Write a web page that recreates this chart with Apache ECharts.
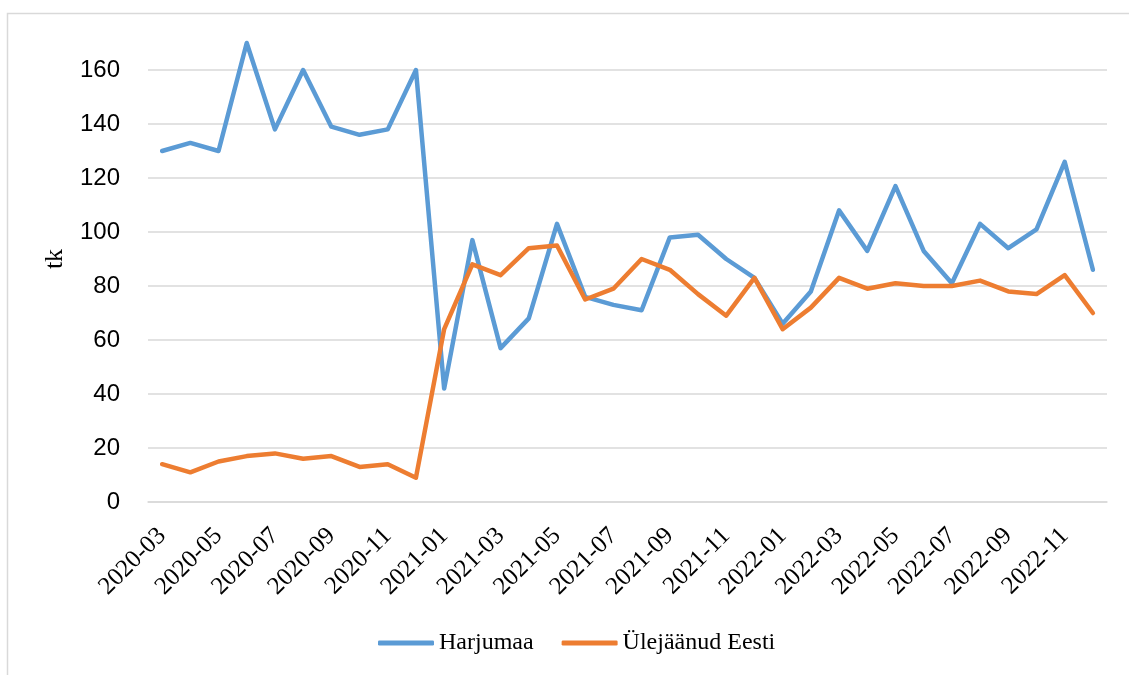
<!DOCTYPE html>
<html>
<head>
<meta charset="utf-8">
<script src="https://cdn.jsdelivr.net/npm/echarts@6/dist/echarts.min.js"></script>
<style>
  html, body { margin: 0; padding: 0; background: #fff; }
  #main { width: 1129px; height: 675px; }
</style>
</head>
<body>
<div id="main"></div>
<script>
// kuud 2020-03 ... 2022-12
var months = ['2020-03','2020-04','2020-05','2020-06','2020-07','2020-08','2020-09','2020-10','2020-11','2020-12',
  '2021-01','2021-02','2021-03','2021-04','2021-05','2021-06','2021-07','2021-08','2021-09','2021-10','2021-11','2021-12',
  '2022-01','2022-02','2022-03','2022-04','2022-05','2022-06','2022-07','2022-08','2022-09','2022-10','2022-11','2022-12'];

var harjumaa = [130, 133, 130, 170, 138, 160, 139, 136, 138, 160,
  42, 97, 57, 68, 103, 76, 73, 71, 98, 99, 90, 83,
  66, 78, 108, 93, 117, 93, 81, 103, 94, 101, 126, 86];

var ylejaanud = [14, 11, 15, 17, 18, 16, 17, 13, 14, 9,
  64, 88, 84, 94, 95, 75, 79, 90, 86, 77, 69, 83,
  64, 72, 83, 79, 81, 80, 80, 82, 78, 77, 84, 70];

var seriesNames = ['Harjumaa', 'Ülejäänud Eesti'];
var colors = ['#5B9BD5', '#ED7D31'];

var myChart = echarts.init(document.getElementById('main'));

function lineSeries(name, data, color) {
  return {
    name: name,
    type: 'line',
    data: data,
    showSymbol: false,
    symbol: 'none',
    color: color,
    lineStyle: { width: 4.5, color: color, cap: 'round', join: 'round' },
    emphasis: { disabled: true }
  };
}

myChart.setOption({
  backgroundColor: '#fff',
  animation: false,
  grid: { left: 148, right: 22, top: 16, bottom: 173 },
  graphic: [{
    type: 'polyline',
    shape: { points: [[7.5, 675], [7.5, 13.5], [1129, 13.5]] },
    style: { stroke: '#d9d9d9', lineWidth: 1.5, fill: null }
  }],
  legend: {
    data: seriesNames,
    bottom: 15,
    left: 373,
    icon: 'roundRect',
    itemWidth: 56,
    itemHeight: 5,
    itemGap: 28,
    textStyle: { fontFamily: 'Liberation Serif', fontSize: 24, color: '#000' }
  },
  xAxis: {
    type: 'category',
    data: months,
    boundaryGap: true,
    axisLine: { show: true, lineStyle: { color: '#d9d9d9', width: 1.5 } },
    axisTick: { show: false },
    axisLabel: {
      interval: 1,
      rotate: 45,
      margin: 30,
      fontFamily: 'Liberation Serif',
      fontSize: 25,
      color: '#000'
    }
  },
  yAxis: {
    type: 'value',
    min: 0,
    max: 180,
    interval: 20,
    name: 'tk',
    nameLocation: 'middle',
    nameRotate: 90,
    nameGap: 80,
    nameTextStyle: { fontFamily: 'Liberation Serif', fontSize: 26, color: '#000' },
    axisLine: { show: false },
    axisTick: { show: false },
    axisLabel: {
      showMaxLabel: false,
      margin: 28,
      fontFamily: 'Liberation Sans',
      fontSize: 24,
      color: '#000'
    },
    splitLine: { show: true, showMaxLine: false, lineStyle: { color: '#d9d9d9', width: 1.5 } }
  },
  series: [
    lineSeries(seriesNames[0], harjumaa, colors[0]),
    lineSeries(seriesNames[1], ylejaanud, colors[1])
  ]
});
</script>
</body>
</html>
